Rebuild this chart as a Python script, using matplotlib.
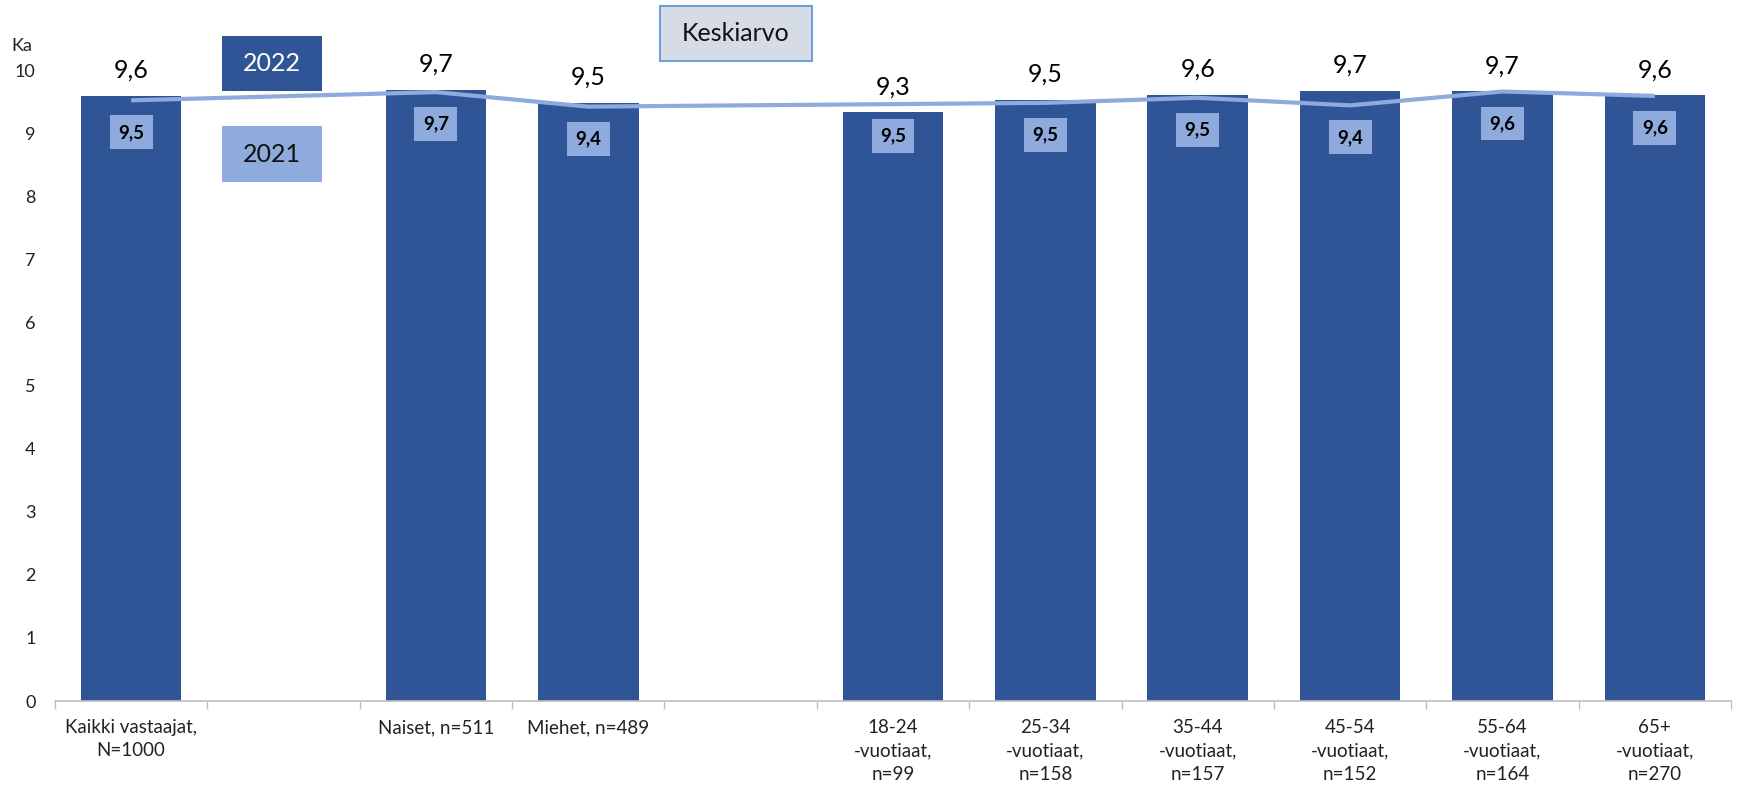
import matplotlib
matplotlib.use("Agg")
import matplotlib.pyplot as plt
import matplotlib.patches as mpatches
import numpy as np

plt.rcParams['font.family'] = ['Lato', 'DejaVu Sans']

categories = ["Kaikki vastaajat,\nN=1000", "", "Naiset, n=511", "Miehet, n=489", "",
              "18-24\n-vuotiaat,\nn=99", "25-34\n-vuotiaat,\nn=158", "35-44\n-vuotiaat,\nn=157",
              "45-54\n-vuotiaat,\nn=152", "55-64\n-vuotiaat,\nn=164", "65+\n-vuotiaat,\nn=270"]
values_2022 = [9.60, np.nan, 9.70, 9.49, np.nan, 9.34, 9.54, 9.62, 9.68, 9.67, 9.61]
labels_2022 = ["9,6", "", "9,7", "9,5", "", "9,3", "9,5", "9,6", "9,7", "9,7", "9,6"]
values_2021 = [9.53, np.nan, 9.66, 9.43, np.nan, 9.47, 9.49, 9.57, 9.45, 9.67, 9.60]
labels_2021 = ["9,5", "", "9,7", "9,4", "", "9,5", "9,5", "9,5", "9,4", "9,6", "9,6"]
yticks = [0, 1, 2, 3, 4, 5, 6, 7, 8, 9, 10]

BAR = "#2F5597"
LIGHT = "#8FAADC"

W, H = 1740, 791
fig = plt.figure(figsize=(W / 100, H / 100), dpi=100)
ax = fig.add_axes([55 / W, 1 - 701 / H, (1731 - 55) / W, (701 - 70.7) / H])

x = np.arange(len(categories))
v22 = np.array(values_2022, dtype=float)
v21 = np.array(values_2021, dtype=float)
m22 = ~np.isnan(v22)
m21 = ~np.isnan(v21)

ax.bar(x[m22], v22[m22], width=0.66, color=BAR, zorder=2)
ax.plot(x[m21], v21[m21], color=LIGHT, lw=3, solid_capstyle='butt', zorder=3)

for xi, v, lab in zip(x, v22, labels_2022):
    if np.isnan(v):
        continue
    ax.annotate(lab, (xi, v), xytext=(0, 10), textcoords='offset points',
                ha='center', va='bottom', fontsize=18, color='black', zorder=5)

for xi, v, lab in zip(x, v21, labels_2021):
    if np.isnan(v):
        continue
    ax.annotate(lab, (xi, v), xytext=(0, -23), textcoords='offset points',
                ha='center', va='center', fontsize=13.5, fontweight='bold', color='black',
                bbox=dict(boxstyle='square,pad=0.45', fc=LIGHT, ec='none'), zorder=5)

ax.set_xlim(-0.5, len(categories) - 0.5)
ax.set_ylim(0, 10)
ax.set_yticks(yticks)
ax.set_yticklabels([str(t) for t in yticks], fontsize=13, color='#222222')
ax.tick_params(axis='y', length=0, pad=14)

ax.set_xticks(x)
ax.set_xticklabels(categories, fontsize=13.5, color='#222222', linespacing=1.45, va='top')
ax.set_xticks(np.arange(-0.5, len(categories), 1.0), minor=True)
ax.tick_params(axis='x', which='major', length=0, pad=13)
ax.tick_params(axis='x', which='minor', length=6, color='#BFBFBF', width=1)

for s in ['top', 'right', 'left']:
    ax.spines[s].set_visible(False)
ax.spines['bottom'].set_color('#BFBFBF')
ax.spines['bottom'].set_linewidth(1.2)

# "Ka" axis label
fig.text(22 / W, 1 - 46 / H, "Ka", fontsize=13, ha='center', va='center', color='#222222')

# Legend boxes
def box(x0, y0, x1, y1, fc, ec, text, tc, fs):
    r = mpatches.Rectangle((x0 / W, 1 - y1 / H), (x1 - x0) / W, (y1 - y0) / H,
                           transform=fig.transFigure, fc=fc, ec=ec, lw=1.5 if ec != 'none' else 0)
    fig.add_artist(r)
    fig.text((x0 + x1) / 2 / W, 1 - (y0 + y1) / 2 / H, text, ha='center', va='center',
             fontsize=fs, color=tc)

box(222, 36, 322, 91, BAR, 'none', "2022", 'white', 18)
box(222, 126, 322, 182, LIGHT, 'none', "2021", '#111111', 18)
box(660, 6, 812, 61, "#D6DCE5", "#6FA0D8", "Keskiarvo", '#111111', 18)

fig.savefig("out.png", dpi=100)
